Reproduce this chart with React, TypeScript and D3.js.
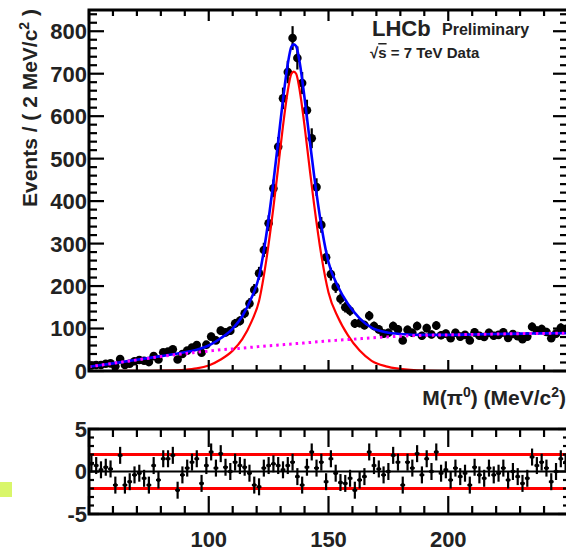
import React from 'react';
import * as d3 from 'd3';

const W = 566;
const H = 551;

// bin centres (2 MeV bins from 50 to 250)
const binCenters = d3.range(51, 250, 2);

// events per bin
const counts = [
  13, 14, 14, 17, 18, 11, 28, 14, 17, 23, 26, 24, 21, 35, 27, 44, 46, 51, 27, 40,
  48, 55, 61, 43, 62, 81, 72, 95, 91, 95,
  112, 118, 136, 159, 191, 230, 285, 348, 430, 528, 642, 704, 784, 737, 678, 614, 548, 433, 344, 268,
  228, 198, 170, 150, 142, 112, 113, 108, 130, 106, 98, 88, 90, 106, 98, 72, 97, 90, 106, 83,
  101, 86, 107, 84, 88, 77, 90, 81, 85, 72, 91, 83, 80, 90, 83, 85, 91, 78, 87, 82,
  75, 81, 104, 95, 99, 92, 77, 88, 102, 99,
];

// pulls per bin (bottom panel)
const pulls = [
  0.9, 0.7, 0.2, 0.5, 0.3, -1.6, 1.9, -1.6, -1.2, -0.4, -0.2, -0.8, -1.6, 0.7, -1.0, 1.5, 1.5, 1.9, -2.2, -0.4,
  0.4, 1.1, 1.5, -1.4, 0.7, 2.3, 0.4, 2.1, 0.5, 0,
  1.1, 0.7, 0.5, -0.2, -1.6, -1.8, 0.4, 0.7, 0.9, 0.7, 0.2, 0.7, 1.1, -0.6, -1.6, 0.5, 2.3, 0.4, 1.1, -1.2,
  1.5, -0.2, -1.3, -1.4, -0.8, -2.2, -1.0, -0.6, 2.3, 0.7, 0.3, -0.4, 0, 1.9, 1.1, -1.6, 1.1, 0.4, 2.1, -0.4,
  1.5, 0, 2.3, -0.2, 0.2, -1.0, 0.4, -0.6, -0.2, -1.6, 0.5, -0.4, -0.8, 0.4, -0.4, -0.2, 0.4, -1.0, 0, -0.6,
  -1.4, -0.8, 1.7, 0.7, 1.1, 0.4, -1.2, 0, 1.5, 1.1,
];

// fitted curves, sampled at these masses
const curveX = [
  50, 60, 70, 80, 90, 95, 100, 105, 110, 114, 118, 121, 124, 127, 129, 131, 133, 134.5, 135.5, 136.5,
  138, 140, 142, 144, 147, 150, 154, 158, 163, 168, 174, 180, 190, 200, 210, 220, 230, 240, 250,
];
const signal = [
  0, 0, 0.3, 1, 3, 6, 13, 27, 48, 75, 118, 165, 260, 385, 480, 577, 660, 700, 705, 700,
  660, 577, 483, 392, 273, 185, 126, 85, 48, 24, 11, 5, 1, 0, 0, 0, 0, 0, 0,
];
const background = [
  10, 18, 26, 34, 41, 44, 47, 50, 52, 54, 56, 57.5, 59, 60, 61, 62, 63, 63.5, 64, 64.5,
  65, 66, 67, 68, 69.5, 71, 72.5, 74, 76, 78, 80, 82, 84, 85, 86, 87, 88, 88.5, 89,
];
const total = [
  10, 18, 26.3, 35, 44, 50, 60, 77, 100, 129, 174, 222.5, 319, 445, 541, 639, 723, 763.5, 769, 764.5,
  725, 643, 550, 460, 342.5, 256, 198.5, 159, 124, 102, 91, 87, 85, 85, 86, 87, 88, 88.5, 89,
];

const yTickLabels = [0, 100, 200, 300, 400, 500, 600, 700, 800];
const xTickLabels = [100, 150, 200];
const pullTickLabels = [5, 0, -5];
const pullBands = [2, -2];

const FONT = "'Liberation Sans', Arial, Helvetica, sans-serif";

export default function App() {
  const x = d3.scaleLinear().domain([50, 250]).range([89, 568]);
  const yTop = d3.scaleLinear().domain([0, 850]).range([371, 10]);
  const yPull = d3.scaleLinear().domain([-5, 5]).range([514, 429]);

  const mk = (ys: number[]) =>
    d3
      .line<number>()
      .x((_, i) => x(curveX[i]))
      .y((d) => yTop(d))
      .curve(d3.curveMonotoneX)(ys) as string;

  const xMinor = d3.range(50, 251, 10);
  const yMinorTop = d3.range(0, 851, 20);
  const yMinorPull = d3.range(-5, 6, 1);

  const topL = x.range()[0];
  const topR = x.range()[1];

  return (
    <svg
      width={W}
      height={H}
      style={{ position: 'absolute', left: 0, top: 0, background: '#fff' }}
      fontFamily={FONT}
    >
      <rect x={0} y={0} width={W} height={H} fill="#fff" />
      <defs>
        <clipPath id="topclip">
          <rect x={topL} y={yTop(850)} width={topR - topL} height={yTop(0) - yTop(850)} />
        </clipPath>
        <clipPath id="pullclip">
          <rect x={topL} y={yPull(5)} width={topR - topL} height={yPull(-5) - yPull(5)} />
        </clipPath>
      </defs>

      {/* ---------- top panel ---------- */}
      <g clipPath="url(#topclip)">
        {binCenters.map((c, i) => {
          const n = counts[i];
          const e = Math.sqrt(n);
          return (
            <g key={i}>
              <line x1={x(c)} x2={x(c)} y1={yTop(n - e)} y2={yTop(n + e)} stroke="#000" strokeWidth={2.2} />
              <line x1={x(c - 1)} x2={x(c + 1)} y1={yTop(n)} y2={yTop(n)} stroke="#000" strokeWidth={2.2} />
              <circle cx={x(c)} cy={yTop(n)} r={4.3} fill="#000" />
            </g>
          );
        })}
        <path d={mk(total)} fill="none" stroke="#0000ff" strokeWidth={2.6} />
        <path d={mk(signal)} fill="none" stroke="#ff0000" strokeWidth={2.2} />
        <path d={mk(background)} fill="none" stroke="#ff00ff" strokeWidth={3} strokeDasharray="2.5 4" />
      </g>

      {/* ticks top panel */}
      <g stroke="#000" strokeWidth={2.2}>
        {xMinor.map((v) => {
          const len = v % 50 === 0 ? 11 : 6;
          return (
            <g key={'xt' + v}>
              <line x1={x(v)} x2={x(v)} y1={yTop(0)} y2={yTop(0) - len} />
              <line x1={x(v)} x2={x(v)} y1={yTop(850)} y2={yTop(850) + len} />
            </g>
          );
        })}
        {yMinorTop.map((v) => {
          const len = v % 100 === 0 ? 15 : 8;
          return (
            <g key={'yt' + v}>
              <line x1={topL} x2={topL + len} y1={yTop(v)} y2={yTop(v)} />
              <line x1={topR} x2={topR - len} y1={yTop(v)} y2={yTop(v)} />
            </g>
          );
        })}
      </g>
      <rect
        x={topL}
        y={yTop(850)}
        width={topR - topL}
        height={yTop(0) - yTop(850)}
        fill="none"
        stroke="#000"
        strokeWidth={3}
      />

      {/* y tick labels top */}
      <g fontSize={22} fontWeight="bold" textAnchor="end" fill="#222">
        {yTickLabels.map((v) => (
          <text key={'yl' + v} x={87} y={yTop(v)} dy="0.36em">
            {v}
          </text>
        ))}
      </g>

      {/* y-axis title */}
      <text
        transform={`translate(37,9) rotate(-90)`}
        textAnchor="end"
        fontSize={21}
        fontWeight="bold"
        fill="#222"
      >
        Events / ( 2 MeV/c
        <tspan dy={-8} fontSize={14}>2</tspan>
        <tspan dy={8}> )</tspan>
      </text>

      {/* x-axis title */}
      <text x={566} y={405} textAnchor="end" fontSize={21} fontWeight="bold" fill="#222">
        M(π<tspan dy={-8} fontSize={14}>0</tspan>
        <tspan dy={8}>) (MeV/c</tspan>
        <tspan dy={-8} fontSize={14}>2</tspan>
        <tspan dy={8}>)</tspan>
      </text>

      {/* LHCb label */}
      <text x={372} y={36} fontSize={22} fontWeight="bold" fill="#222">LHCb</text>
      <text x={442} y={35} fontSize={16} fontWeight="bold" fill="#222">Preliminary</text>
      <text x={370} y={58} fontSize={15} fontWeight="bold" fill="#222">
        √<tspan textDecoration="overline">s</tspan> = 7 TeV Data
      </text>

      {/* ---------- pull panel ---------- */}
      <g clipPath="url(#pullclip)">
        <line x1={topL} x2={topR} y1={yPull(0)} y2={yPull(0)} stroke="#000" strokeWidth={2} />
        {pullBands.map((b) => (
          <line key={'b' + b} x1={topL} x2={topR} y1={yPull(b)} y2={yPull(b)} stroke="#ff0000" strokeWidth={3} />
        ))}
        {binCenters.map((c, i) => {
          const p = pulls[i];
          return (
            <g key={'p' + i}>
              <line x1={x(c)} x2={x(c)} y1={yPull(p - 1)} y2={yPull(p + 1)} stroke="#000" strokeWidth={2.2} />
              <line x1={x(c - 1)} x2={x(c + 1)} y1={yPull(p)} y2={yPull(p)} stroke="#000" strokeWidth={2.2} />
              <circle cx={x(c)} cy={yPull(p)} r={2} fill="#000" />
            </g>
          );
        })}
      </g>
      <g stroke="#000" strokeWidth={2.2}>
        {xMinor.map((v) => {
          const len = v % 50 === 0 ? 18 : 8;
          return (
            <g key={'pxt' + v}>
              <line x1={x(v)} x2={x(v)} y1={yPull(-5)} y2={yPull(-5) - len} />
              <line x1={x(v)} x2={x(v)} y1={yPull(5)} y2={yPull(5) + len} />
            </g>
          );
        })}
        {yMinorPull.map((v) => {
          const len = v % 5 === 0 ? 10 : 5;
          return (
            <g key={'pyt' + v}>
              <line x1={topL} x2={topL + len} y1={yPull(v)} y2={yPull(v)} />
              <line x1={topR} x2={topR - len} y1={yPull(v)} y2={yPull(v)} />
            </g>
          );
        })}
      </g>
      <rect
        x={topL}
        y={yPull(5)}
        width={topR - topL}
        height={yPull(-5) - yPull(5)}
        fill="none"
        stroke="#000"
        strokeWidth={3}
      />
      <g fontSize={22} fontWeight="bold" textAnchor="end" fill="#222">
        {pullTickLabels.map((v) => (
          <text key={'pl' + v} x={87} y={yPull(v)} dy="0.36em">
            {v}
          </text>
        ))}
      </g>
      <g fontSize={22} fontWeight="bold" textAnchor="middle" fill="#222">
        {xTickLabels.map((v) => (
          <text key={'xl' + v} x={x(v)} y={547}>
            {v}
          </text>
        ))}
      </g>

      {/* highlight square at left edge */}
      <rect x={0} y={482} width={12} height={15} fill="#d9f66a" />
    </svg>
  );
}
